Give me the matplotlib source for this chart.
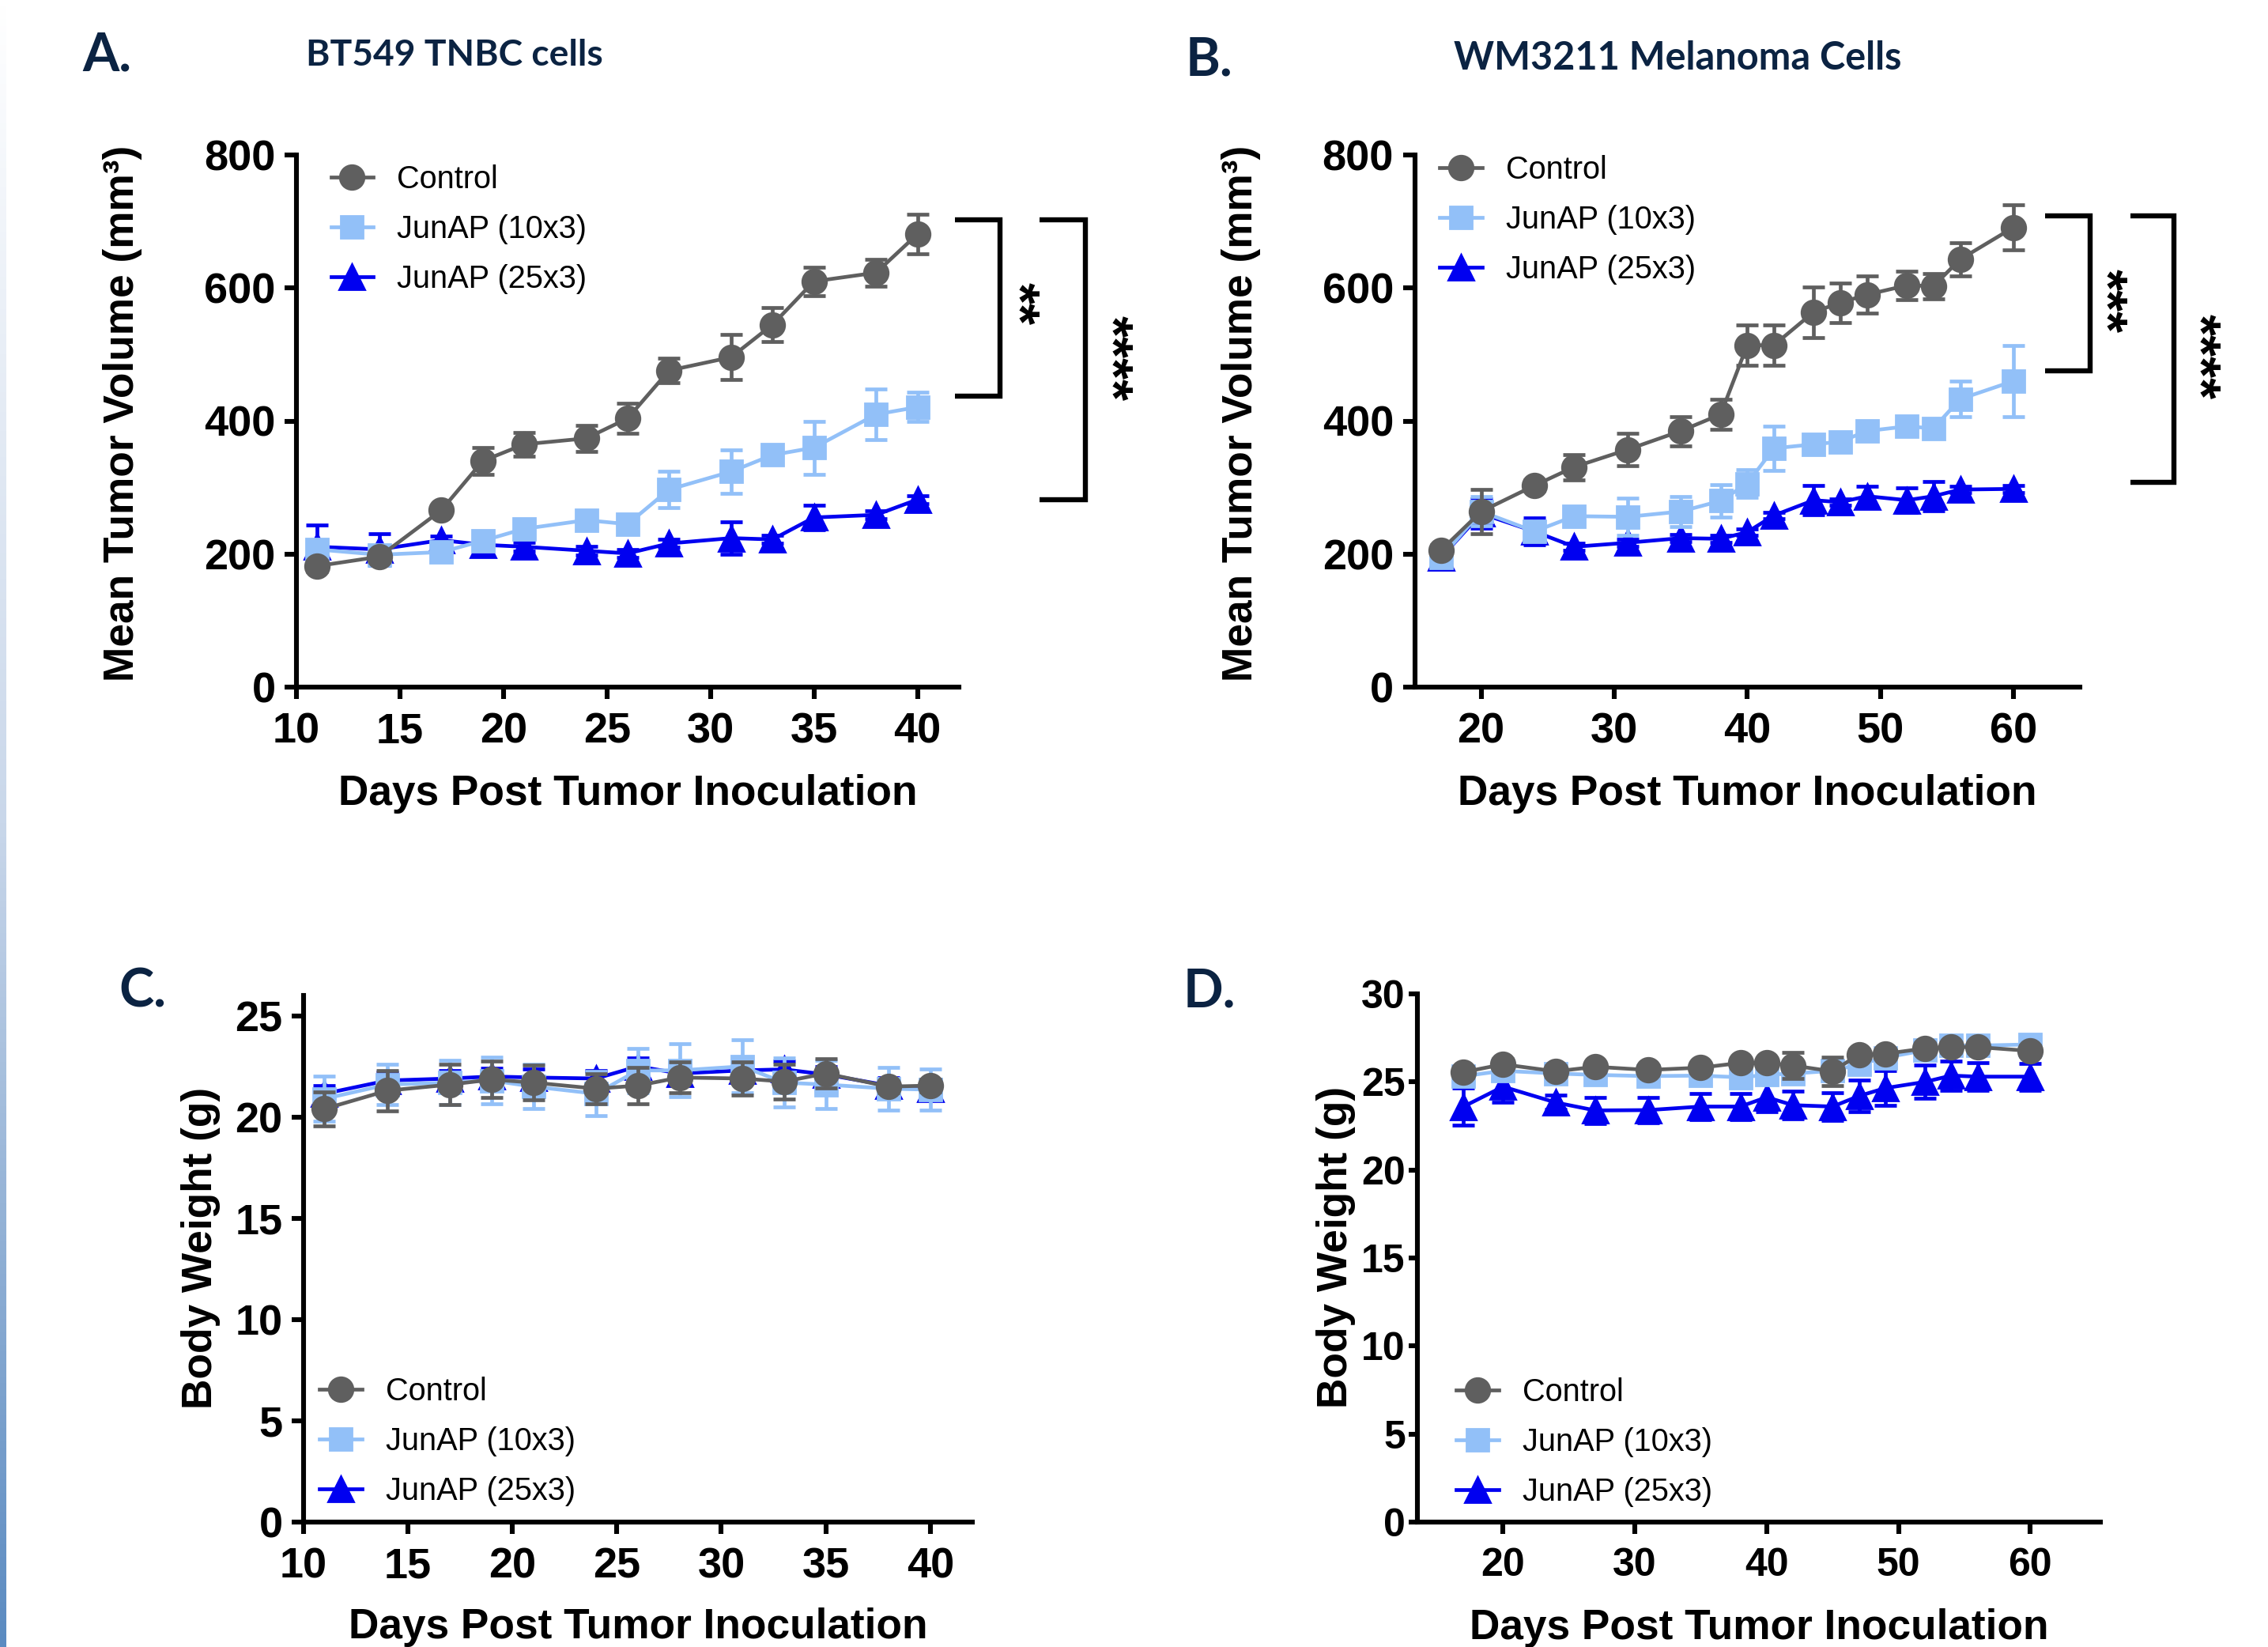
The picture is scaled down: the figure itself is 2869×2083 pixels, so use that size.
import numpy as np
import matplotlib
matplotlib.use("Agg")
import matplotlib.pyplot as plt
from matplotlib.colors import LinearSegmentedColormap

# ---------------- data ----------------
labels = ["Control", "JunAP (10x3)", "JunAP (25x3)"]

a_days = [11, 14, 17, 19, 21, 24, 26, 28, 31, 33, 35, 38, 40]
a_ctrl = [182, 196, 266, 340, 365, 374, 404, 476, 496, 545, 610, 623, 681]
a_ctrl_err = [8, 8, 6, 20, 18, 20, 23, 18, 34, 25, 21, 20, 30]
a_10 = [207, 199, 203, 220, 238, 251, 245, 297, 324, 349, 360, 410, 421]
a_10_err = [10, 8, 6, 6, 8, 6, 6, 27, 33, 10, 40, 38, 22]
a_25 = [211, 207, 221, 214, 211, 205, 201, 216, 224, 222, 255, 259, 282]
a_25_err = [33, 24, 6, 16, 6, 6, 6, 6, 24, 6, 18, 6, 6]

b_days = [17, 20, 24, 27, 31, 35, 38, 40, 42, 45, 47, 49, 52, 54, 56, 60]
b_ctrl = [206, 264, 303, 331, 357, 385, 410, 514, 514, 564, 578, 590, 604, 603, 643, 691]
b_ctrl_err = [8, 33, 8, 19, 24, 22, 23, 30, 30, 38, 30, 28, 21, 19, 25, 34]
b_10 = [195, 264, 234, 257, 256, 264, 280, 306, 359, 365, 369, 385, 392, 389, 433, 460]
b_10_err = [14, 22, 10, 10, 28, 23, 24, 21, 33, 8, 8, 8, 8, 8, 27, 54]
b_25 = [195, 261, 234, 211, 217, 224, 223, 233, 258, 281, 278, 287, 281, 287, 297, 298]
b_25_err = [10, 22, 20, 5, 5, 5, 5, 5, 5, 22, 5, 15, 18, 22, 5, 5]

c_days = [11, 14, 17, 19, 21, 24, 26, 28, 31, 33, 35, 38, 40]
c_ctrl = [20.4, 21.3, 21.6, 21.85, 21.7, 21.4, 21.55, 21.95, 21.9, 21.75, 22.15, 21.5, 21.55]
c_ctrl_err = [0.85, 1.0, 1.0, 0.9, 0.86, 0.74, 0.9, 0.76, 0.83, 0.85, 0.73, 0.3, 0.3]
c_10 = [20.9, 21.6, 21.7, 21.8, 21.5, 21.15, 22.3, 22.3, 22.5, 21.7, 21.6, 21.4, 21.35]
c_10_err = [1.1, 1.0, 1.1, 1.15, 1.1, 1.1, 1.1, 1.3, 1.3, 1.2, 1.2, 1.05, 1.0]
c_25 = [21.15, 21.8, 21.9, 22.0, 21.95, 21.9, 22.5, 22.15, 22.3, 22.35, 22.1, 21.55, 21.4]
c_25_err = [0.4, 0.4, 0.4, 0.4, 0.4, 0.4, 0.4, 0.4, 0.4, 0.4, 0.4, 0.4, 0.4]

d_days = [17, 20, 24, 27, 31, 35, 38, 40, 42, 45, 47, 49, 52, 54, 56, 60]
d_ctrl = [25.56, 26.0, 25.6, 25.86, 25.68, 25.81, 26.08, 26.08, 25.93, 25.6, 26.56, 26.6, 26.9, 26.98, 26.98, 26.76]
d_ctrl_err = [0.3, 0.3, 0.3, 0.3, 0.3, 0.3, 0.3, 0.3, 0.75, 0.8, 0.3, 0.3, 0.3, 0.3, 0.3, 0.3]
d_10 = [25.33, 25.63, 25.48, 25.4, 25.33, 25.36, 25.26, 25.4, 25.48, 25.63, 26.0, 26.38, 26.8, 27.06, 27.06, 27.13]
d_10_err = [0.4, 0.4, 0.4, 0.4, 0.4, 0.4, 0.4, 0.4, 0.4, 0.4, 0.4, 0.4, 0.4, 0.4, 0.4, 0.4]
d_25 = [23.6, 24.73, 23.83, 23.38, 23.4, 23.6, 23.6, 24.13, 23.68, 23.6, 24.2, 24.65, 25.0, 25.36, 25.3, 25.3]
d_25_err = [1.05, 0.9, 0.4, 0.75, 0.7, 0.75, 0.75, 0.83, 0.78, 0.78, 0.9, 0.98, 0.94, 0.84, 0.8, 0.77]

# ---------------- style ----------------
W, H = 2869, 2083
DPI = 200
C_CTRL = "#5f5f5f"
C_10 = "#92c0f8"
C_25 = "#0000f0"
NAVY = "#0b2342"
FONT = ["Liberation Sans", "DejaVu Sans"]
TITLE_FONT = ["Lato", "Open Sans", "DejaVu Sans"]
LW = 1.7
SPINE_LW = 2.2
TICK_FS = 19.5
LABEL_FS = 19.2
LEG_FS = 14.3

plt.rcParams["font.family"] = FONT

fig = plt.figure(figsize=(W / DPI, H / DPI), dpi=DPI)
fig.patch.set_facecolor("white")


def px_axes(left, right, top, bottom):
    return fig.add_axes([left / W, 1 - bottom / H, (right - left) / W, (bottom - top) / H])


def style(ax, xlim, ylim, xticks, yticks, fs=TICK_FS, ypad=4, ylen=5.5):
    ax.set_xlim(*xlim)
    ax.set_ylim(*ylim)
    ax.set_xticks(xticks)
    ax.set_yticks(yticks)
    for s in ("top", "right"):
        ax.spines[s].set_visible(False)
    for s in ("left", "bottom"):
        ax.spines[s].set_linewidth(SPINE_LW)
        ax.spines[s].set_color("black")
    ax.tick_params(axis="both", direction="out", length=5.5, width=SPINE_LW,
                   labelsize=fs, color="black")
    ax.tick_params(axis="x", pad=6)
    ax.tick_params(axis="y", pad=ypad, length=ylen)
    for t in ax.get_xticklabels() + ax.get_yticklabels():
        t.set_fontweight("bold")
        t.set_family(FONT)


def draw(ax, days, series):
    handles = {}
    for vals, errs, color, marker, ms, label, z in series:
        ax.errorbar(days, vals, yerr=errs, fmt="none", ecolor=color, elinewidth=LW,
                    capsize=5, capthick=LW, zorder=z, clip_on=False)
        h, = ax.plot(days, vals, color=color, marker=marker, ms=ms, lw=LW,
                     mec=color, mfc=color, label=label, zorder=z + 0.5, clip_on=False)
        handles[label] = h
    return [handles[l] for l in labels]


def panel(ax, days, ctrl, ctrl_err, j10, j10_err, j25, j25_err):
    series = [
        (j25, j25_err, C_25, "^", 11.5, labels[2], 3),
        (j10, j10_err, C_10, "s", 10.3, labels[1], 4),
        (ctrl, ctrl_err, C_CTRL, "o", 11, labels[0], 5),
    ]
    return draw(ax, days, series)


def legend(ax, handles, x, y):
    ax.legend(handles=handles, loc="upper left", bbox_to_anchor=(x, y), frameon=False,
              prop={"family": FONT, "size": LEG_FS}, handlelength=1.35, handletextpad=0.75,
              labelspacing=0.63, borderaxespad=0, borderpad=0)


def bracket(ax, x0, x1, ytop, ybot, stars, xs, ys):
    ax.plot([x0, x1, x1, x0], [ytop, ytop, ybot, ybot], color="black", lw=2.3,
            clip_on=False, solid_joinstyle="miter", solid_capstyle="butt")
    ax.text(xs, ys, stars, rotation=270, ha="center", va="center", fontsize=25,
            fontweight="bold", family=FONT)


def labels_xy(ax, xlabel, ylabel, xl_y, yl_x, yl_y):
    ax.set_xlabel(xlabel, fontsize=LABEL_FS, fontweight="bold", va="center")
    ax.set_ylabel(ylabel, fontsize=LABEL_FS, fontweight="bold", va="center")
    ax.xaxis.set_label_coords(0.5, xl_y)
    ax.yaxis.set_label_coords(yl_x, yl_y)


# ---------------- Panel A ----------------
axA = px_axes(375, 1213, 196, 869)
hA = panel(axA, a_days, a_ctrl, a_ctrl_err, a_10, a_10_err, a_25, a_25_err)
style(axA, (10, 42), (0, 800), [10, 15, 20, 25, 30, 35, 40], [0, 200, 400, 600, 800])
labels_xy(axA, "Days Post Tumor Inoculation", "Mean Tumor Volume (mm³)", -0.2, -0.262, 0.515)
legend(axA, hA, 0.052, 0.982)
bracket(axA, 41.8, 44.0, 703, 438, "**", 44.75, 577)
bracket(axA, 45.9, 48.1, 703, 282, "****", 49.25, 494)

# ---------------- Panel B ----------------
axB = px_axes(1789.5, 2631, 196, 869)
hB = panel(axB, b_days, b_ctrl, b_ctrl_err, b_10, b_10_err, b_25, b_25_err)
style(axB, (15, 65), (0, 800), [20, 30, 40, 50, 60], [0, 200, 400, 600, 800])
labels_xy(axB, "Days Post Tumor Inoculation", "Mean Tumor Volume (mm³)", -0.2, -0.261, 0.515)
legend(axB, hB, 0.038, 1.0)
bracket(axB, 62.4, 65.8, 708, 476, "***", 66.8, 581)
bracket(axB, 68.8, 72.05, 708, 308, "****", 73.8, 497)

# ---------------- Panel C ----------------
axC = px_axes(384, 1229.6, 1259, 1925)
hC = panel(axC, c_days, c_ctrl, c_ctrl_err, c_10, c_10_err, c_25, c_25_err)
style(axC, (10, 42), (0, 26), [10, 15, 20, 25, 30, 35, 40], [0, 5, 10, 15, 20, 25])
labels_xy(axC, "Days Post Tumor Inoculation", "Body Weight (g)", -0.2, -0.154, 0.52)
legend(axC, hC, 0.024, 0.277)

# ---------------- Panel D ----------------
axD = px_axes(1793, 2656.7, 1257, 1925)
hD = panel(axD, d_days, d_ctrl, d_ctrl_err, d_10, d_10_err, d_25, d_25_err)
style(axD, (13.5, 65.3), (0, 30), [20, 30, 40, 50, 60], [0, 5, 10, 15, 20, 25, 30],
      fs=18, ypad=1.5, ylen=4.0)
labels_xy(axD, "Days Post Tumor Inoculation", "Body Weight (g)", -0.2, -0.119, 0.52)
legend(axD, hD, 0.057, 0.274)

# ---------------- panel letters and titles ----------------
def ftext(x, y, s, size, ha="left"):
    fig.text(x / W, 1 - y / H, s, fontsize=size, fontweight="bold", color=NAVY,
             family=TITLE_FONT, ha=ha, va="center")

ftext(104, 70, "A.", 24)
ftext(387, 70, "BT549 TNBC cells", 16.6)
ftext(1500, 77, "B.", 24)
ftext(1839, 73, "WM3211 Melanoma Cells", 17.5)
ftext(150, 1255, "C.", 24)
ftext(1497, 1255, "D.", 24)

# ---------------- decorative left gradient bar ----------------
bar = fig.add_axes([0, 0, 7 / W, 1])
cmap = LinearSegmentedColormap.from_list("bar", ["#ffffff", "#c9d7ea", "#5b8bc1"])
bar.imshow(np.linspace(0, 1, 256).reshape(-1, 1), aspect="auto", cmap=cmap,
           extent=(0, 1, 0, 1), origin="upper")
bar.set_axis_off()

fig.savefig("out.png", dpi=DPI)
